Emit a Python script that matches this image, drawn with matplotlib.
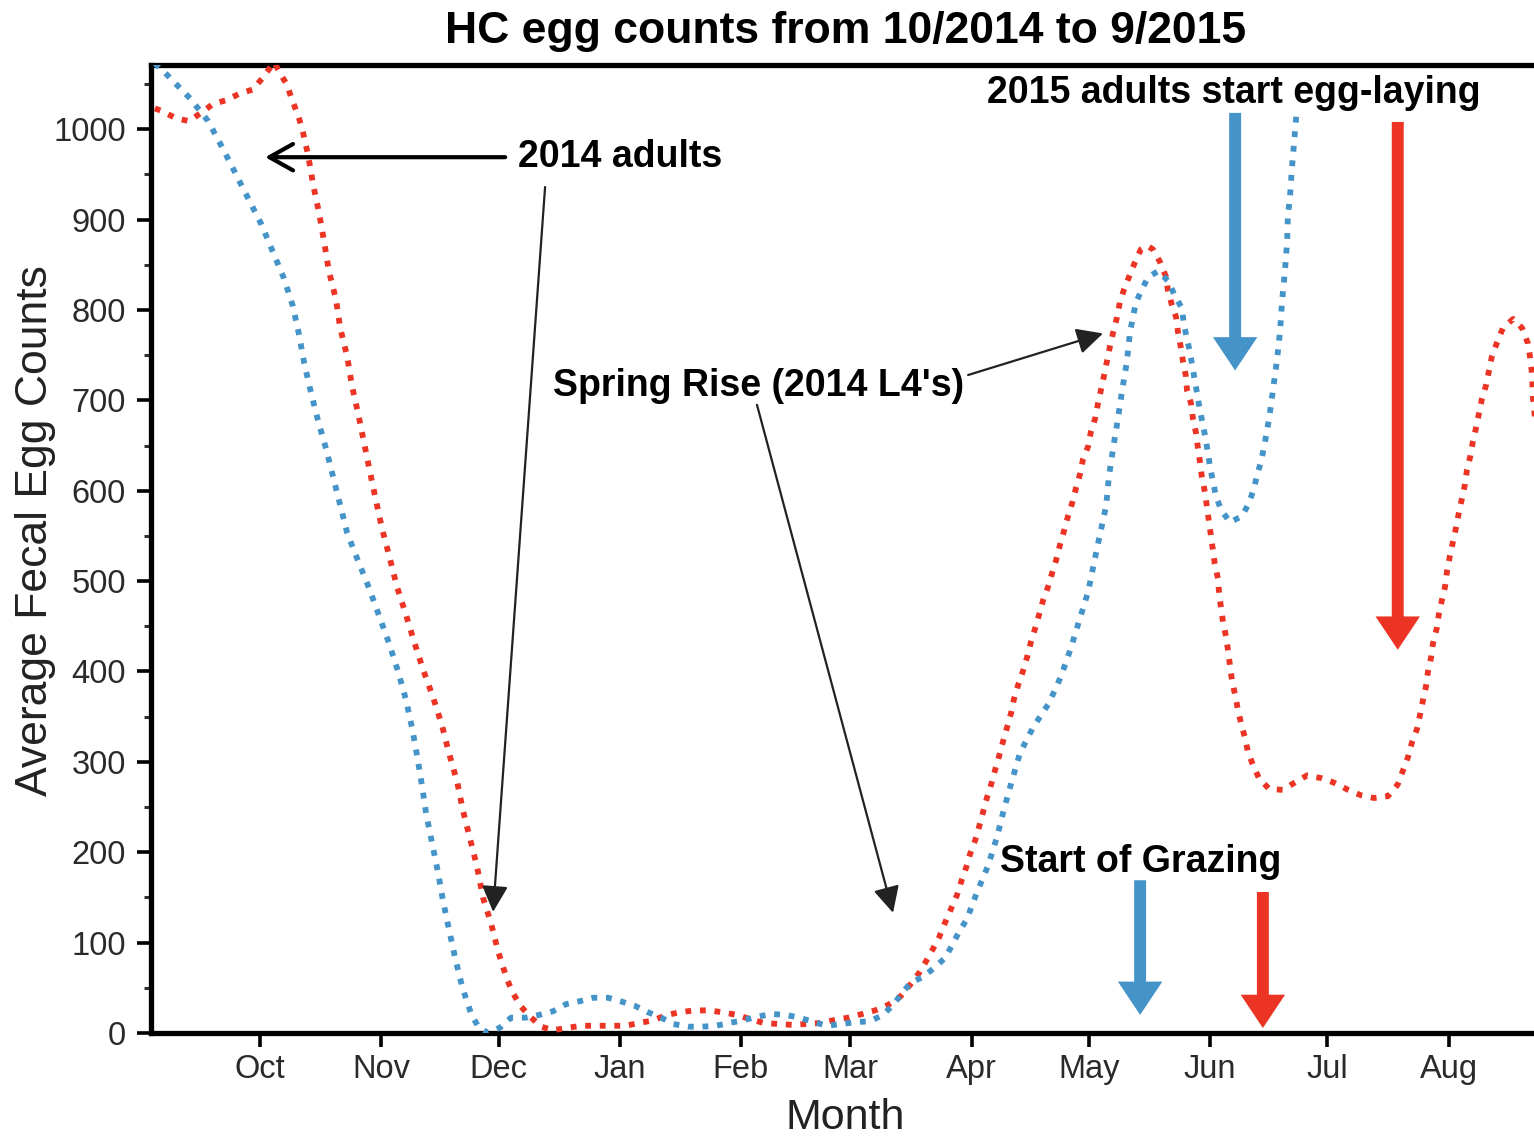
import matplotlib
matplotlib.use("Agg")
import matplotlib.pyplot as plt
from matplotlib.ticker import MultipleLocator

plt.rcParams['font.family'] = ['Liberation Sans', 'DejaVu Sans']

# ---- data (x = days since 1 Oct 2014, y = average fecal egg count) ----
month_days = [0, 31, 61, 92, 123, 151, 182, 212, 243, 273, 304]
month_labels = ['Oct', 'Nov', 'Dec', 'Jan', 'Feb', 'Mar', 'Apr', 'May', 'Jun', 'Jul', 'Aug']
y_ticks = [0, 100, 200, 300, 400, 500, 600, 700, 800, 900, 1000]

blue_days = [-26.9, -23.3, -17.9, -13.3, -9.7, -6.4, -3.1, 0.3, 3.3, 6.1, 8.4, 10.0, 11.3, 13.0,
             14.8, 16.9, 18.7, 20.5, 22.3, 25.1, 27.9, 30.4, 33.0, 35.3, 37.3, 38.9, 40.2, 41.4,
             42.5, 44.0, 45.5, 46.8, 48.3, 49.9, 51.7, 54.0, 55.8, 58.3, 61.4, 64.2, 68.0, 71.4,
             74.9, 78.3, 81.6, 85.2, 89.0, 92.3, 95.9, 99.2, 102.6, 105.6, 109.5, 113.0, 116.6,
             119.9, 123.5, 127.1, 130.9, 134.5, 137.9, 141.7, 145.0, 148.6, 152.4, 156.0, 159.3,
             161.9, 164.2, 166.5, 169.6, 172.4, 175.2, 177.0, 178.8, 180.8, 183.4, 186.2, 188.5,
             190.3, 192.3, 194.4, 197.7, 201.8, 204.9, 207.4, 209.5, 211.8, 213.3, 214.8, 216.4,
             217.1, 218.2, 219.4, 220.5, 221.7, 222.5, 224.0, 225.6, 227.1, 229.7, 232.5, 233.8,
             235.8, 236.3, 237.9, 239.1, 240.4, 241.9, 243.0, 244.5, 245.8, 248.1, 251.2, 252.9,
             254.2, 255.0, 256.0, 256.8, 258.1, 259.1, 260.1, 260.9, 261.4, 262.1, 262.7, 262.9,
             263.4, 263.9, 264.5, 265.2]
blue_counts = [1073, 1058, 1034, 1009, 980, 952, 924, 895, 864, 835, 804, 772, 741, 709,
               678, 646, 615, 584, 553, 522, 492, 462, 431, 400, 369, 337, 306, 274,
               242, 210, 178, 146, 115, 83, 51, 21, 7, 0, 6, 17, 17, 20,
               24, 32, 35, 39, 39, 35, 30, 23, 17, 10, 7, 7, 8,
               11, 14, 18, 21, 20, 17, 12, 8, 10, 12, 13, 20,
               31, 44, 56, 62, 72, 83, 97, 112, 126, 156, 185, 217,
               248, 279, 310, 338, 365, 395, 426, 456, 488, 520, 551, 583,
               615, 647, 679, 711, 742, 775, 808, 823, 836, 843, 831, 817,
               802, 784, 752, 722, 689, 657, 626, 594, 579, 565, 572, 586,
               602, 617, 632, 648, 680, 712, 744, 777, 809, 841, 875, 905,
               923, 955, 987, 1023]

red_days = [-26.9, -25.1, -21.5, -18.2, -15.1, -12.0, -8.7, -5.4, -1.8, 0.5, 3.6, 5.1, 6.9,
            8.2, 9.5, 10.7, 12.3, 13.6, 15.1, 16.4, 17.6, 19.4, 20.5, 22.3, 23.5, 25.1, 26.6,
            28.1, 29.7, 31.2, 33.2, 35.0, 37.3, 39.4, 41.7, 44.2, 46.5, 48.3, 50.4, 51.9, 53.7,
            55.5, 57.0, 59.1, 60.9, 63.2, 64.7, 66.8, 69.1, 71.9, 74.9, 78.8, 82.4, 86.2, 89.8,
            93.4, 96.9, 100.5, 104.1, 107.4, 111.0, 114.8, 118.2, 122.0, 125.6, 128.9, 132.5,
            136.1, 139.6, 143.2, 146.5, 150.4, 154.0, 157.3, 160.6, 163.7, 166.2, 168.5, 170.3,
            172.1, 173.7, 175.2, 176.7, 178.3, 179.3, 180.6, 181.6, 182.9, 183.9, 184.9, 185.9,
            187.0, 188.0, 189.0, 190.0, 191.0, 192.1, 192.8, 193.9, 195.1, 196.2, 197.2, 198.2,
            199.2, 200.3, 201.5, 202.6, 203.6, 204.6, 205.6, 206.6, 207.7, 208.7, 209.7, 210.5,
            211.8, 212.5, 213.6, 214.3, 215.1, 215.9, 216.6, 217.4, 218.2, 219.2, 219.9, 221.0,
            222.3, 223.8, 225.3, 226.9, 228.4, 230.2, 231.7, 232.2, 233.2, 234.3, 234.8, 235.5,
            236.1, 236.8, 237.1, 238.1, 238.6, 239.4, 239.9, 240.4, 240.9, 241.7, 242.2, 242.7,
            243.2, 243.7, 244.2, 245.0, 245.3, 245.8, 246.3, 247.1, 247.6, 248.1, 248.6, 249.4,
            250.1, 250.9, 251.9, 252.7, 254.0, 255.5, 258.1, 261.6, 265.0, 267.8, 271.4, 274.7,
            278.3, 281.6, 284.9, 288.5, 291.0, 292.3, 293.6, 294.6, 295.9, 296.7, 297.4, 298.2,
            298.7, 299.5, 300.0, 301.0, 301.5, 302.3, 303.1, 303.6, 304.3, 305.1, 305.9, 306.6,
            307.4, 308.2, 308.7, 309.5, 310.2, 311.0, 311.8, 312.5, 313.6, 314.3, 315.1, 316.4,
            317.9, 320.5, 322.8, 324.3, 324.8, 325.3, 325.6, 326.4]
red_counts = [1023, 1020, 1012, 1009, 1018, 1028, 1032, 1039, 1044, 1056, 1074, 1062, 1049,
              1032, 1018, 1002, 971, 938, 907, 875, 843, 812, 780, 748, 716, 685, 653,
              621, 588, 558, 525, 494, 463, 433, 402, 372, 341, 310, 278, 246, 215,
              184, 150, 121, 90, 59, 44, 29, 18, 7, 3, 6, 8, 8, 8,
              8, 11, 14, 20, 23, 25, 25, 23, 20, 15, 11, 10,
              9, 10, 11, 14, 17, 21, 25, 31, 40, 53, 66, 79,
              93, 106, 122, 137, 153, 167, 183, 198, 213, 228, 244, 260,
              275, 291, 306, 322, 337, 354, 369, 385, 400, 416, 433, 447,
              462, 479, 493, 509, 523, 540, 555, 571, 586, 603, 618, 635,
              649, 665, 680, 696, 712, 728, 743, 760, 775, 792, 808, 823,
              837, 853, 867, 871, 867, 853, 837, 822, 806, 792, 775, 759,
              742, 727, 711, 697, 680, 664, 647, 632, 615, 598, 582, 566,
              551, 535, 519, 503, 487, 470, 455, 438, 423, 406, 390, 374,
              358, 343, 327, 311, 296, 282, 270, 269, 278, 285, 282, 277,
              269, 263, 260, 262, 275, 290, 305, 321, 336, 352, 367, 383,
              399, 415, 431, 448, 463, 479, 494, 511, 527, 543, 559, 575,
              591, 607, 623, 637, 654, 669, 686, 701, 717, 732, 749, 764,
              780, 790, 780, 763, 749, 731, 702, 667]

RED = '#ec3424'
BLUE = '#4594c9'

# ---- figure ----
W, H = 1534, 1138
fig = plt.figure(figsize=(W / 100, H / 100), dpi=100)
ax = fig.add_axes([151 / W, 105 / H, 1409 / W, 968 / H])

dot = (0, (1.0, 1.5))
ax.plot(red_days, red_counts, color=RED, lw=4.2, linestyle=dot, dash_capstyle='butt', zorder=3)
ax.plot(blue_days, blue_counts, color=BLUE, lw=4.2, linestyle=dot, dash_capstyle='butt', zorder=4)

ax.set_xlim(-27.9, 332.5)
ax.set_ylim(0, 1071)

ax.set_xticks(month_days)
ax.set_xticklabels(month_labels)
ax.set_yticks(y_ticks)
ax.yaxis.set_minor_locator(MultipleLocator(50))

for s in ax.spines.values():
    s.set_linewidth(3.8)
ax.tick_params(axis='both', which='major', direction='out', length=10, width=2.6,
               labelsize=23.5, colors='black', labelcolor='#2a2a2a')
ax.tick_params(axis='x', pad=5)
ax.tick_params(axis='y', pad=8)
ax.tick_params(axis='y', which='minor', direction='out', length=5, width=2.2, color='#333333')

ax.set_ylabel('Average Fecal Egg Counts', fontsize=32, color='#222222')
ax.yaxis.set_label_coords(-0.082, 0.519)
ax.yaxis.label.set_va('center')
ax.set_xlabel('Month', fontsize=31, color='#222222')
ax.xaxis.set_label_coords(0.4925, -0.088)
ax.xaxis.label.set_va('center')

fig.text(846 / W, 1 - 32 / H, 'HC egg counts from 10/2014 to 9/2015', ha='center', va='center',
         fontsize=32, fontweight='bold')

# ---- annotations ----
tfs = 27
ax.text(66.0, 969, '2014 adults', fontsize=tfs, fontweight='bold', ha='left', va='center', zorder=6)
ax.text(185.9, 1040, '2015 adults start egg-laying', fontsize=tfs, fontweight='bold',
        ha='left', va='center', zorder=6)
ax.text(74.9, 716, "Spring Rise (2014 L4's)", fontsize=tfs, fontweight='bold',
        ha='left', va='center', zorder=6)
ax.text(189.3, 189, 'Start of Grazing', fontsize=tfs, fontweight='bold',
        ha='left', va='center', zorder=6)

# thick horizontal arrow for 2014 adults
ax.annotate('', xy=(1.3, 969), xytext=(62.7, 969),
            arrowprops=dict(arrowstyle='->,head_length=17,head_width=9.5', mutation_scale=1,
                            lw=3, color='black', shrinkA=0, shrinkB=0), zorder=6)
thin = dict(arrowstyle='-|>,head_length=16,head_width=8', mutation_scale=1,
            lw=1.6, color='#222222', shrinkA=0, shrinkB=0)
ax.annotate('', xy=(59.6, 134), xytext=(72.9, 936), arrowprops=thin, zorder=6)
ax.annotate('', xy=(215.6, 774), xytext=(181.1, 728), arrowprops=thin, zorder=6)
ax.annotate('', xy=(161.9, 133), xytext=(127.1, 695), arrowprops=thin, zorder=6)

big = 'simple,head_length=24,head_width=32,tail_width=8.6'
for xd, tail, head, col in [(249.4, 1018, 733, BLUE), (291.0, 1008, 424, RED),
                            (225.1, 169, 20, BLUE), (256.5, 156, 5.5, RED)]:
    ax.annotate('', xy=(xd, head), xytext=(xd, tail),
                arrowprops=dict(arrowstyle=big, mutation_scale=1, color=col, lw=0,
                                shrinkA=0, shrinkB=0), zorder=5)

fig.savefig('out.png', dpi=100)
